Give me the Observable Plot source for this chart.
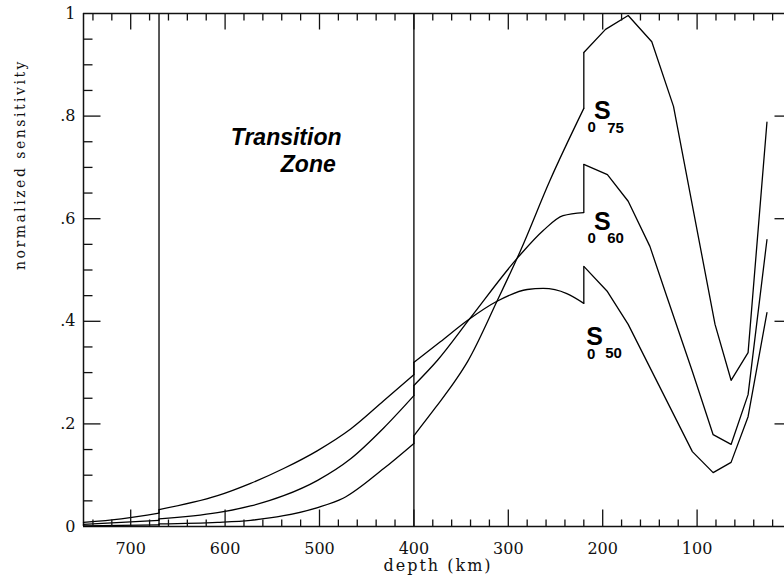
<!DOCTYPE html>
<html><head><meta charset="utf-8">
<script src="https://cdn.jsdelivr.net/npm/d3@7"></script>
<script src="https://cdn.jsdelivr.net/npm/@observablehq/plot@0.6"></script>
<style>html,body{margin:0;padding:0;background:#fff;overflow:hidden;}#chart{position:relative;width:784px;height:578px;}</style>
</head><body><div id="chart"></div>
<script>
// ---- data (depth in km, normalized sensitivity); repeated depths mark discontinuities ----
const s75Depth = [750, 710, 670, 670, 608, 573, 538, 502, 475, 432, 400, 400, 377, 354, 343, 312, 287, 256, 220, 220, 197, 173, 148, 125, 81, 64, 46, 26];
const s75Value = [0.001, 0.002, 0.003, 0.005, 0.008, 0.012, 0.021, 0.037, 0.055, 0.113, 0.162, 0.177, 0.232, 0.290, 0.322, 0.439, 0.538, 0.674, 0.815, 0.924, 0.969, 0.996, 0.945, 0.819, 0.394, 0.285, 0.339, 0.788];

const s60Depth = [750, 710, 670, 670, 608, 573, 538, 502, 467, 432, 400, 400, 375, 340, 290, 263, 242, 220, 220, 195, 173, 150, 132, 105, 83, 64, 46, 26];
const s60Value = [0.004, 0.008, 0.012, 0.015, 0.027, 0.040, 0.060, 0.090, 0.132, 0.192, 0.255, 0.275, 0.324, 0.407, 0.524, 0.577, 0.606, 0.612, 0.706, 0.686, 0.634, 0.546, 0.448, 0.302, 0.179, 0.160, 0.257, 0.559];

const s50Depth = [750, 710, 670, 670, 608, 573, 538, 502, 467, 432, 400, 400, 372, 343, 312, 280, 263, 238, 220, 220, 195, 173, 105, 83, 64, 46, 26];
const s50Value = [0.008, 0.015, 0.026, 0.033, 0.060, 0.084, 0.113, 0.148, 0.190, 0.245, 0.296, 0.320, 0.360, 0.402, 0.439, 0.462, 0.464, 0.454, 0.435, 0.507, 0.458, 0.394, 0.146, 0.105, 0.125, 0.214, 0.417];

const boundaryDepths = [670, 400];
const xTickValues = [700, 600, 500, 400, 300, 200, 100, 0];
const xMinorTicks = [740, 720, 700, 680, 660, 640, 620, 600, 580, 560, 540, 520, 500, 480, 460, 440, 420, 400, 380, 360, 340, 320, 300, 280, 260, 240, 220, 200, 180, 160, 140, 120, 100, 80, 60, 40, 20];
const yTickValues = [0, 0.2, 0.4, 0.6, 0.8, 1];
const yTickLabels = ["0", ".2", ".4", ".6", ".8", "1"];
const yMinorTicks = [0.05, 0.1, 0.15, 0.2, 0.25, 0.3, 0.35, 0.4, 0.45, 0.5, 0.55, 0.6, 0.65, 0.7, 0.75, 0.8, 0.85, 0.9, 0.95];

const curveNumbers = ["75", "60", "50"];
const labelDepth = [200.5, 200.5, 208.5];
const labelValue = [0.809, 0.593, 0.370];

const zoneLines = ["Transition", "Zone"];
const zoneDepth = [594, 541];
const zoneValue = [0.758, 0.706];

const yTitle = "normalized sensitivity";
const xTitle = "depth (km)";

// ---- layout ----
const W = 784, H = 578, ML = 83, MT = 13, MB = 52, MR = 0;
const xRange = [83, 791];
const xDomain = [750, 0];
const kmPerPx = (xDomain[0] - xDomain[1]) / (xRange[1] - xRange[0]);
const valPerPx = 1 / (H - MB - MT);

// split each curve into continuous pieces at repeated depths
const smoothRows = [], polyRows = [], jumps = [];
[["S75", s75Depth, s75Value], ["S60", s60Depth, s60Value], ["S50", s50Depth, s50Value]].forEach(([name, ds, vs]) => {
  const pieces = [[]];
  ds.forEach((d, i) => {
    if (i > 0 && d === ds[i - 1]) {
      jumps.push({depth: d, v1: vs[i - 1], v2: vs[i]});
      pieces.push([]);
    }
    pieces[pieces.length - 1].push({curve: name + "-" + (pieces.length - 1), depth: d, value: vs[i]});
  });
  pieces.forEach((p, k) => {
    const target = k === pieces.length - 1 ? polyRows : smoothRows;
    p.forEach(r => target.push(r));
  });
});

// inward tick segments (lengths in pixels converted to data units)
const isXMajor = d => d % 100 === 0;
const isYMajor = v => yTickValues.includes(v);
const majLen = 17, majLenTop = 16, minLenX = 7, minLenY = 9, minLenR = 7;
const tickSegs = [];
yMinorTicks.forEach(v => {
  const major = isYMajor(v);
  tickSegs.push({x1: xDomain[0], x2: xDomain[0] - (major ? majLen : minLenY) * kmPerPx, y1: v, y2: v});
  tickSegs.push({x1: xDomain[1], x2: xDomain[1] + (major ? majLen : minLenR) * kmPerPx, y1: v, y2: v});
});
xMinorTicks.forEach(d => {
  const major = isXMajor(d);
  tickSegs.push({x1: d, x2: d, y1: 0, y2: (major ? majLen : minLenX) * valPerPx});
  tickSegs.push({x1: d, x2: d, y1: 1, y2: 1 - (major ? majLenTop : minLenX) * valPerPx});
});

const ink = "#111";
const tickFont = "DejaVu Serif";
const titleFont = "DejaVu Serif";

const marks = [
  Plot.ruleX(boundaryDepths, {x: d => d, stroke: ink, strokeWidth: 1.4}),
  Plot.ruleX(xDomain, {x: d => d, stroke: ink, strokeWidth: 1.5}),
  Plot.ruleY([0, 1], {y: d => d, stroke: ink, strokeWidth: 1.5}),
  Plot.line(smoothRows, {x: "depth", y: "value", z: "curve", stroke: "#000", strokeWidth: 1.3, curve: "monotone-x"}),
  Plot.line(polyRows, {x: "depth", y: "value", z: "curve", stroke: "#000", strokeWidth: 1.3, curve: "linear"}),
  Plot.link(jumps, {x1: "depth", x2: "depth", y1: "v1", y2: "v2", stroke: "#000", strokeWidth: 1.3}),
  Plot.text(yTickValues, {x: xDomain[0], y: d => d, text: (d, i) => yTickLabels[i], textAnchor: "end", dx: -8, fontFamily: tickFont, fontSize: 16, fill: ink}),
  Plot.text(xTickValues, {x: d => d, y: 0, text: d => String(d), dy: 22, fontFamily: tickFont, fontSize: 16, fill: ink}),
  Plot.text([yTitle], {frameAnchor: "left", dx: -63, rotate: -90, text: d => d, fontFamily: titleFont, fontSize: 14, fill: ink}),
  Plot.text([xTitle], {frameAnchor: "bottom", dy: 44, dx: 4, text: d => d, fontFamily: titleFont, fontSize: 16, fill: ink}),
  Plot.text(zoneLines, {x: (d, i) => zoneDepth[i], y: (d, i) => zoneValue[i], text: d => d, textAnchor: "start", fontFamily: "Liberation Sans", fontSize: 23, fontWeight: "bold", fontStyle: "italic", fill: "#000"})
];

const subOffsets = [
  {zx: -10.5, zy: 16, nx: 5, ny: 17},
  {zx: -10.5, zy: 15.5, nx: 5, ny: 16},
  {zx: -3.5, zy: 17, nx: 10.5, ny: 16}
];
curveNumbers.forEach((num, i) => {
  const pt = [{depth: labelDepth[i], value: labelValue[i]}];
  const o = subOffsets[i];
  marks.push(
    Plot.text(pt, {x: "depth", y: "value", text: () => "S", fontFamily: "Liberation Sans", fontWeight: "bold", fontSize: 25, fill: "#000"}),
    Plot.text(pt, {x: "depth", y: "value", text: () => "0", dx: o.zx, dy: o.zy, fontFamily: "Liberation Sans", fontWeight: "bold", fontSize: 15, fill: "#000"}),
    Plot.text(pt, {x: "depth", y: "value", text: () => num, dx: o.nx, dy: o.ny, textAnchor: "start", fontFamily: "Liberation Sans", fontWeight: "bold", fontSize: 15, fill: "#000"})
  );
});

const chart = Plot.plot({
  width: W, height: H,
  marginTop: MT, marginBottom: MB, marginLeft: ML, marginRight: MR,
  x: {domain: xDomain, range: xRange, axis: null},
  y: {domain: [0, 1], axis: null},
  style: {background: "#fff", fontFamily: tickFont, overflow: "visible", position: "absolute", left: "0px", top: "0px"},
  marks
});

// tick marks drawn in a transparent overlay with identical scales
const tickLayer = Plot.plot({
  width: W, height: H,
  marginTop: MT, marginBottom: MB, marginLeft: ML, marginRight: MR,
  x: {domain: xDomain, range: xRange, axis: null},
  y: {domain: [0, 1], axis: null},
  style: {background: "transparent", overflow: "visible", position: "absolute", left: "0px", top: "0px"},
  marks: [
    Plot.link(tickSegs, {x1: "x1", x2: "x2", y1: "y1", y2: "y2", stroke: ink, strokeWidth: 1.3})
  ]
});

const host = document.getElementById("chart");
host.appendChild(chart);
host.appendChild(tickLayer);
// typewriter-like spacing for the axis titles
d3.select(chart).selectAll("text").filter(function () { return this.textContent === yTitle; }).attr("letter-spacing", 2.5);
d3.select(chart).selectAll("text").filter(function () { return this.textContent === xTitle; }).attr("letter-spacing", 2);
</script>
</body></html>
